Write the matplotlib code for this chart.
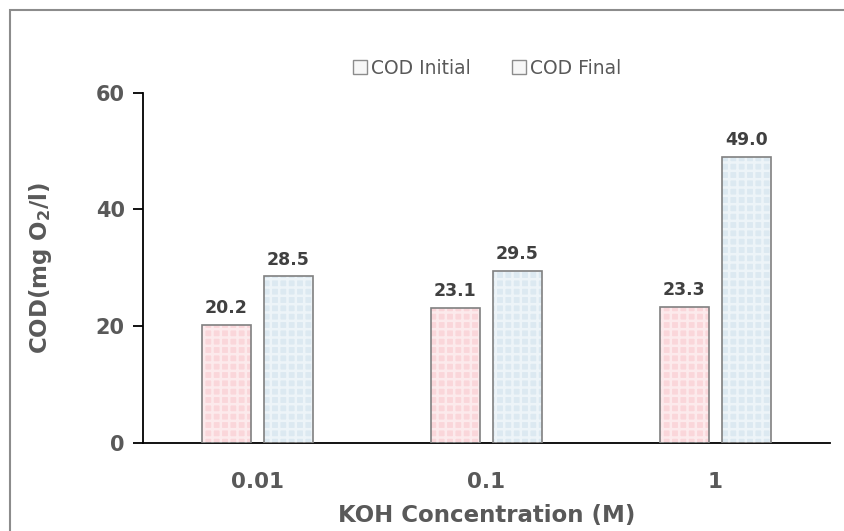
import numpy as np
import matplotlib.pyplot as plt
from matplotlib.patches import Rectangle, Patch

# COD before/after treatment for each KOH concentration
concentrations = ['0.01', '0.1', '1']
cod_initial = [20.2, 23.1, 23.3]
cod_final = [28.5, 29.5, 49.0]
series_names = ['COD Initial', 'COD Final']

plt.rcParams['font.family'] = 'DejaVu Sans'
plt.rcParams['hatch.linewidth'] = 1.8

fig = plt.figure(figsize=(8.45, 5.31), dpi=100)
ax = fig.add_axes([0.169, 0.1663, 0.813, 0.6591])

x = np.arange(len(concentrations))
w = 0.214
off = 0.135

def plaid_bars(xpos, vals, base):
    # light base, translucent white stripes, then the grey outline
    ax.bar(xpos, vals, w, color=base, linewidth=0, zorder=2)
    ax.bar(xpos, vals, w, facecolor='none', edgecolor=(1, 1, 1, 0.5),
           hatch='++', linewidth=0, zorder=3)
    ax.bar(xpos, vals, w, facecolor='none', edgecolor='#808080',
           linewidth=1.2, zorder=4)

plaid_bars(x - off, cod_initial, '#FAD6DA')
plaid_bars(x + off, cod_final, '#DCE9F1')

for xi, v in zip(x - off, cod_initial):
    ax.text(xi, v + 1.3, '%.1f' % v, ha='center', va='bottom',
            fontsize=12.5, fontweight='bold', color='#404040')
for xi, v in zip(x + off, cod_final):
    ax.text(xi, v + 1.3, '%.1f' % v, ha='center', va='bottom',
            fontsize=12.5, fontweight='bold', color='#404040')

ax.set_xlim(-0.5, 2.5)
ax.set_ylim(0, 60)
ax.set_yticks([0, 20, 40, 60])
ax.set_xticks(x)
ax.set_xticklabels(concentrations)

for s in ['top', 'right']:
    ax.spines[s].set_visible(False)
ax.spines['left'].set_linewidth(1.3)
ax.spines['bottom'].set_linewidth(1.3)
ax.tick_params(axis='y', length=7, width=1.3, labelsize=15,
               labelcolor='#595959', pad=6)
ax.tick_params(axis='x', length=0, labelsize=15.5, labelcolor='#595959', pad=21)
for lab in ax.get_xticklabels() + ax.get_yticklabels():
    lab.set_fontweight('bold')

ax.set_xlabel('KOH Concentration (M)', fontsize=16.5, fontweight='bold',
              color='#595959', labelpad=9)
ax.set_ylabel(r'COD(mg O$_\mathbf{2}$/l)', fontsize=16.5, fontweight='bold',
              color='#595959', labelpad=30)

handles = [Patch(facecolor='#F7F7F7', edgecolor='#8C8C8C', linewidth=1.0),
           Patch(facecolor='#F7F7F7', edgecolor='#8C8C8C', linewidth=1.0)]
leg = ax.legend(handles, series_names, loc='center', ncol=2,
                bbox_to_anchor=(487 / 845, 1 - 68 / 531),
                bbox_transform=fig.transFigure, frameon=False,
                fontsize=13.5, handlelength=0.75, handleheight=0.75,
                handletextpad=0.2, columnspacing=2.2)
for t in leg.get_texts():
    t.set_color('#595959')

# outer chart frame
fig.patches.append(Rectangle((10 / 845, -0.1), 1.2, 1 - 10 / 531 + 0.1,
                             transform=fig.transFigure, fill=False,
                             edgecolor='#8C8C8C', linewidth=1.5))

fig.savefig('out.png', dpi=100)
